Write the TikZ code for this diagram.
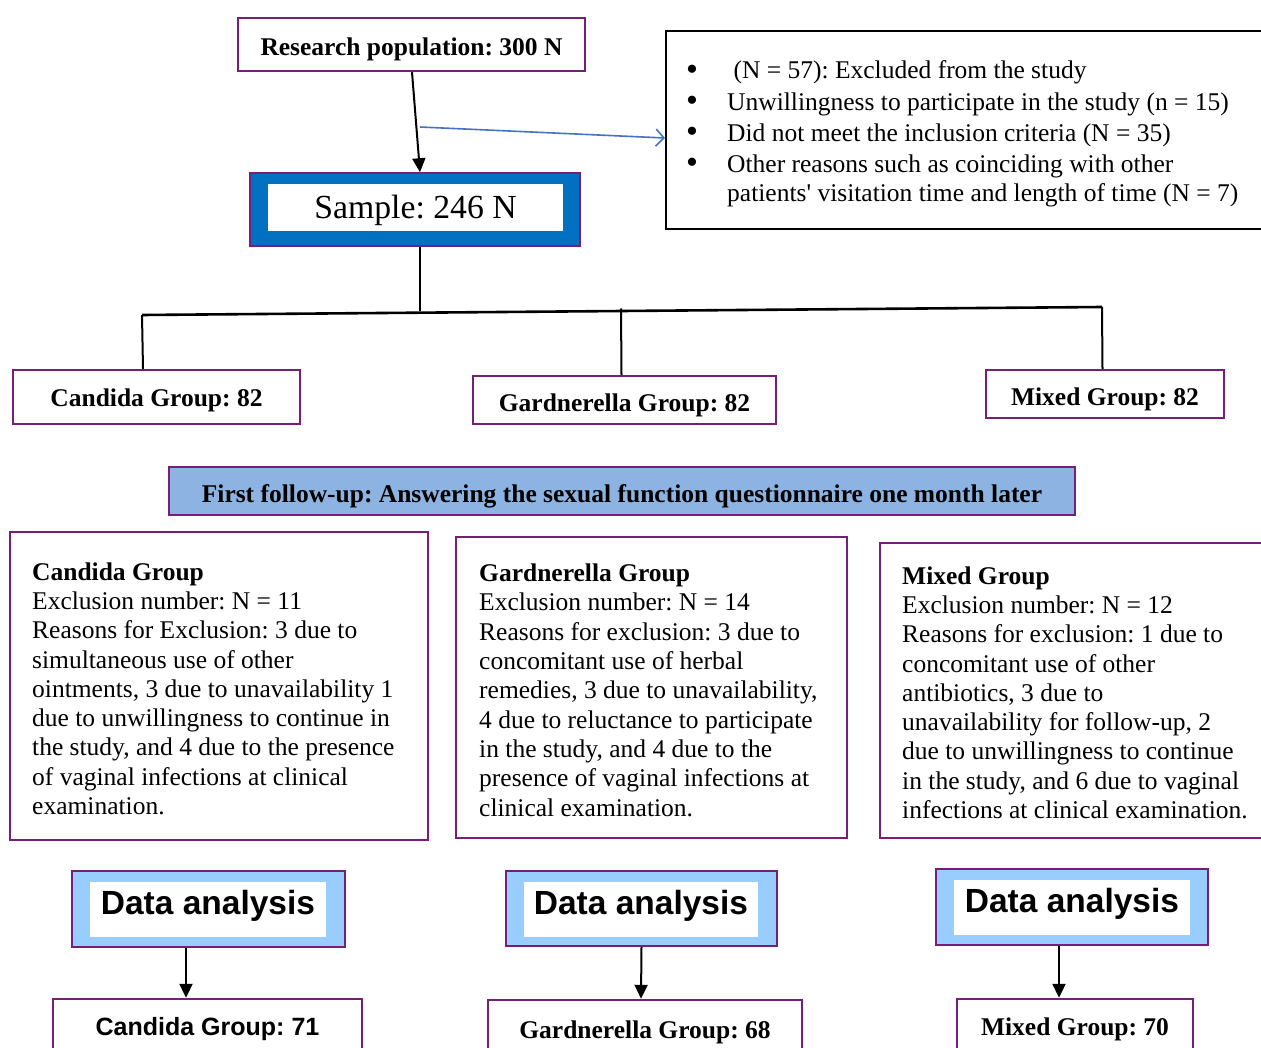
\documentclass[tikz,border=0pt]{standalone}
\usepackage{fontspec}
\setmainfont{Liberation Serif}
\setsansfont{Liberation Sans}
\usetikzlibrary{arrows.meta}
\definecolor{pur}{RGB}{118,30,120}
\definecolor{sblue}{RGB}{0,112,192}
\definecolor{fublue}{RGB}{141,179,226}
\definecolor{dablue}{RGB}{153,204,255}
\definecolor{lblue}{RGB}{68,114,196}
\frenchspacing
\tikzset{
  pbox/.style={draw=pur, line width=2.4pt, fill=white, inner sep=0pt, text height=28pt, text depth=5.5pt, font=\bfseries\fontsize{25.5}{29.3}\selectfont},
  dbox/.style={draw=pur, line width=2.4pt, inner sep=0pt},
  dtext/.style={anchor=base west, align=left, inner sep=0pt, font=\fontsize{25.5}{29.3}\selectfont},
  daout/.style={draw=pur, line width=2pt, fill=dablue, inner sep=0pt},
  dain/.style={fill=white, inner sep=0pt, text depth=15pt, font=\sffamily\bfseries\fontsize{33.5}{40}\selectfont},
  conn/.style={line width=2pt},
  arr/.style={line width=2pt, -{Triangle[width=13pt,length=14pt]}}
}
\begin{document}
\begin{tikzpicture}[x=1pt,y=-1pt]
\path[use as bounding box] (0,0) rectangle (1261,1048);
\clip (0,0) rectangle (1261,1048);
\fill[white] (0,0) rectangle (1261,1048);

% top
\node[pbox, minimum width=347pt, minimum height=53pt] (research) at (411.5,44.5) {Research population: 300 N};
\node[draw=pur, line width=1.5pt, fill=sblue, minimum width=330pt, minimum height=73pt, inner sep=0pt] (sample) at (415,209.5) {};
\node[fill=white, minimum width=295pt, minimum height=47pt, inner sep=0pt, text height=29pt, text depth=7pt, font=\fontsize{33.7}{40}\selectfont] (samplein) at (415.5,207.5) {Sample: 246 N};

\node[draw=black, line width=2pt, minimum width=624pt, minimum height=198pt, inner sep=0pt] (exc) at (978,130) {};
% base anchor of a multi-line node = baseline of its last line
\node[dtext] (exct) at (727,202) {\ (N = 57): Excluded from the study\\[2pt]
Unwillingness to participate in the study (n = 15)\\[2pt]
Did not meet the inclusion criteria (N = 35)\\[2pt]
Other reasons such as coinciding with other\\
patients\textquotesingle\ visitation time and length of time (N = 7)};
\node[dtext, font=\fontsize{34}{29.3}\selectfont] (bul) at (686,174) {•\\[2pt]•\\[2pt]•\\[2pt]•};

\draw[arr] ([xshift=0.5pt]research.south) -- ([xshift=5pt]sample.north);
\coordinate (bstart) at (420,127);
\draw[lblue, line width=1.6pt, -{Straight Barb[length=8pt,width=17pt]}] (bstart) -- ([yshift=-8pt]exc.west);

% groups
\node[pbox, text height=24pt, minimum width=287pt, minimum height=54pt] (cg) at (156.5,397) {Candida Group: 82};
\node[pbox, text height=29pt, minimum width=303pt, minimum height=48pt] (gg) at (624.5,400) {Gardnerella Group: 82};
\node[pbox, text height=29pt, minimum width=238pt, minimum height=48pt] (mg) at (1105,394) {Mixed Group: 82};

\coordinate (j) at (420,311);
\coordinate (hl) at (142,315);
\coordinate (hm) at (621,308.5);
\coordinate (hr) at (1102,307);
\draw[conn] ([xshift=5pt]sample.south) -- (j);
\draw[line width=2.6pt] (hl) -- (hr);
\draw[conn] (hl) -- ([xshift=-13.5pt]cg.north);
\draw[conn] (hm) -- ([xshift=-3pt]gg.north);
\draw[conn] (hr) -- ([xshift=-2.5pt]mg.north);

% follow-up banner
\node[pbox, text height=29pt, fill=fublue, minimum width=906pt, minimum height=48pt] (fu) at (622,491) {First follow-up: Answering the sexual function questionnaire one month later};

% detail boxes
\node[dbox, minimum width=418pt, minimum height=308pt] (cdet) at (219,686) {};
\node[dtext] (cdett) at (32,814.5) {\textbf{Candida Group}\\
Exclusion number: N = 11\\
Reasons for Exclusion: 3 due to\\
simultaneous use of other\\
ointments, 3 due to unavailability 1\\
due to unwillingness to continue in\\
the study, and 4 due to the presence\\
of vaginal infections at clinical\\
examination.};

\node[dbox, minimum width=391pt, minimum height=301pt] (gdet) at (651.5,687.5) {};
\node[dtext] (gdett) at (479,816) {\textbf{Gardnerella Group}\\
Exclusion number: N = 14\\
Reasons for exclusion: 3 due to\\
concomitant use of herbal\\
remedies, 3 due to unavailability,\\
4 due to reluctance to participate\\
in the study, and 4 due to the\\
presence of vaginal infections at\\
clinical examination.};

\node[dbox, minimum width=410pt, minimum height=295pt] (mdet) at (1085,690.5) {};
\node[dtext] (mdett) at (902,818.5) {\textbf{Mixed Group}\\
Exclusion number: N = 12\\
Reasons for exclusion: 1 due to\\
concomitant use of other\\
antibiotics, 3 due to\\
unavailability for follow-up, 2\\
due to unwillingness to continue\\
in the study, and 6 due to vaginal\\
infections at clinical examination.};

% data analysis
\node[daout, minimum width=273pt, minimum height=76pt] (da1) at (208.5,909) {};
\node[dain, minimum width=236pt, minimum height=55pt] (da1in) at (208,909.5) {Data analysis};
\node[daout, minimum width=271pt, minimum height=75pt] (da2) at (641.5,908.5) {};
\node[dain, minimum width=234pt, minimum height=55pt] (da2in) at (641,909.5) {Data analysis};
\node[daout, minimum width=272pt, minimum height=76pt] (da3) at (1072,907) {};
\node[dain, minimum width=236pt, minimum height=55pt] (da3in) at (1072,907.5) {Data analysis};

% bottom
\node[pbox, text height=22pt, font=\sffamily\bfseries\fontsize{25}{29}\selectfont, minimum width=309pt, minimum height=56pt] (b1) at (207.5,1027) {Candida Group: 71};
\node[pbox, text height=22pt, minimum width=314pt, minimum height=60pt] (b2) at (645,1030) {Gardnerella Group: 68};
\node[pbox, text height=23pt, minimum width=236pt, minimum height=56pt] (b3) at (1075,1027) {Mixed Group: 70};

\draw[arr] ([xshift=-22.5pt]da1.south) -- ([xshift=-21.5pt]b1.north);
\draw[arr] (da2.south) -- ([xshift=-4pt]b2.north);
\draw[arr] ([xshift=-13pt]da3.south) -- ([xshift=-16pt]b3.north);
\end{tikzpicture}
\end{document}
